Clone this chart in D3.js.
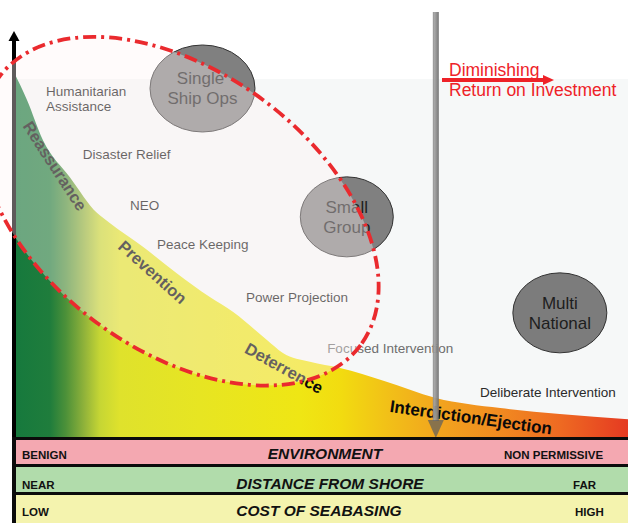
<!DOCTYPE html>
<html><head><meta charset="utf-8">
<script src="https://cdn.jsdelivr.net/npm/d3@7"></script>
<style>
html,body{margin:0;padding:0;background:#fff;overflow:hidden}
svg{display:block;font-family:"Liberation Sans",Arial,Helvetica,sans-serif}
</style>
</head><body>
<svg id="c" width="628" height="523"></svg>
<script>
// ---------- DATA ----------
// operational spectrum (0 = benign, 100 = non permissive) vs. relative effort / utility
const spectrumX = [0, 2.1, 4.7, 9.1, 13.5, 15.6, 21.0, 26.5, 31.9, 35.7, 41.2, 43.8, 48.2, 53.1, 60.3, 68.7, 79.2, 88.9, 100];
const utilityY  = [90.3, 83.5, 73.6, 64.4, 55.6, 53.1, 47.2, 40.7, 34.8, 31.1, 24.2, 21.0, 18.8, 17.3, 14.1, 9.9, 7.4, 5.9, 4.6];

const missionNames = ["Humanitarian\nAssistance", "Disaster Relief", "NEO", "Peace Keeping", "Power Projection", "Focused Intervention", "Deliberate Intervention"];
const missionX = [5.2, 11.2, 18.9, 23.3, 37.8, 51.0, 75.9];
const missionY = [84.4, 68.9, 56.3, 46.7, 33.6, 21.0, 10.1];

const phaseNames = ["Reassurance", "Prevention", "Deterrence", "Interdiction/Ejection"];
const phaseX = [6.7, 22.6, 44.0, 74.4];
const phaseY = [67.2, 41.0, 17.3, 5.0];

const forceNames = ["Single\nShip Ops", "Small\nGroup", "Multi\nNational"];
const forceX = [30.7, 54.2, 88.9];
const forceY = [86.3, 54.6, 30.9];

const seabaseZone = {x: 27.0, y: 56.0};      // centre of dash-dot envelope
const diminishingX = 68.7;                    // diminishing return threshold
const annotationLines = ["Diminishing", "Return on Investment"];

const bandTitles = ["ENVIRONMENT", "DISTANCE FROM SHORE", "COST OF SEABASING"];
const bandLow    = ["BENIGN", "NEAR", "LOW"];
const bandHigh   = ["NON PERMISSIVE", "FAR", "HIGH"];

// ---------- LAYOUT / STYLE ----------
const W = 628, H = 523;
const x = d3.scaleLinear().domain([0, 100]).range([14, 628]);
const y = d3.scaleLinear().domain([0, 100]).range([438, 33]);
const svg = d3.select("#c");
const defs = svg.append("defs");

const grad = defs.append("linearGradient").attr("id", "g").attr("gradientUnits", "userSpaceOnUse")
  .attr("x1", x(0)).attr("x2", x(100)).attr("y1", 0).attr("y2", 0);
[[14,"#16793d"],[50,"#1f7d3c"],[66,"#4d9139"],[85,"#93b43a"],[100,"#c6d634"],[120,"#dfe22c"],
 [200,"#e7e522"],[300,"#efe614"],[340,"#f2dc10"],[390,"#f2bf18"],[440,"#f2a41e"],[500,"#f18a20"],
 [560,"#ee6a22"],[628,"#e53a22"]].forEach(([px,c]) => {
  grad.append("stop").attr("offset", (px - 14) / 614).attr("stop-color", c);
});
const ag = defs.append("linearGradient").attr("id", "ag").attr("x1", 0).attr("x2", 1).attr("y1", 0).attr("y2", 0);
ag.append("stop").attr("offset", 0).attr("stop-color", "#8e8e8e");
ag.append("stop").attr("offset", 0.3).attr("stop-color", "#a0a0a0");
ag.append("stop").attr("offset", 1).attr("stop-color", "#6c6c6c");

// background panel
svg.append("rect").attr("x", x(0)).attr("y", 79).attr("width", x(100) - x(0)).attr("height", y(0) - 79).attr("fill", "#f6f8f8");

// utility area
const pts = spectrumX.map((v, i) => [v, utilityY[i]]);
svg.append("path").datum(pts)
  .attr("d", d3.area().x(d => x(d[0])).y0(y(0)).y1(d => y(d[1])).curve(d3.curveMonotoneX))
  .attr("fill", "url(#g)");

// mission labels
missionNames.forEach((t, i) => {
  const tx = svg.append("text").attr("x", x(missionX[i])).attr("y", y(missionY[i]))
    .attr("font-size", 13.5).attr("fill", i === 5 ? "#6e6e6e" : (i === 6 ? "#2a2a2a" : "#111"));
  t.split("\n").forEach((ln, j) => tx.append("tspan").attr("x", x(missionX[i])).attr("dy", j ? 15 : 0).text(ln));
});

// phase labels along the curve
const phaseAngle = [57, 42, 29, 8];
phaseNames.forEach((t, i) => {
  svg.append("text")
    .attr("transform", `translate(${x(phaseX[i])},${y(phaseY[i])}) rotate(${phaseAngle[i]})`)
    .attr("text-anchor", "middle").attr("dominant-baseline", "central")
    .attr("font-size", i === 3 ? 17 : 16.5).attr("font-weight", "bold")
    .attr("fill", "#0a0a0a").text(t);
});

// force packages
const forceR = [[52.5, 43.5], [46.5, 40], [47, 40]];
forceNames.forEach((t, i) => {
  const cx = x(forceX[i]), cy = y(forceY[i]);
  svg.append("ellipse").attr("cx", cx).attr("cy", cy).attr("rx", forceR[i][0]).attr("ry", forceR[i][1])
    .attr("fill", i === 2 ? "#7c7c7c" : "#808080").attr("stroke", "#333").attr("stroke-width", 1);
  const lines = t.split("\n");
  lines.forEach((ln, j) => {
    svg.append("text").attr("x", cx - (i === 0 && j === 0 ? 2 : 0)).attr("y", cy + (j === 0 ? -4 : 16))
      .attr("text-anchor", "middle").attr("font-size", 17).attr("fill", "#1e1e1e").text(ln);
  });
});

// vertical axis
svg.append("rect").attr("x", 12).attr("y", 39).attr("width", 4).attr("height", y(0) - 39).attr("fill", "#000");
svg.append("path").attr("d", "M8.5,41 L14,31 L19.5,41 Z").attr("fill", "#000");

// seabasing envelope (translucent)
const ez = svg.append("g").attr("transform", `translate(${x(seabaseZone.x)},${y(seabaseZone.y)}) rotate(36.5)`);
ez.append("ellipse").attr("rx", 225).attr("ry", 139).attr("fill", "#fff3f3").attr("fill-opacity", 0.37);
ez.append("ellipse").attr("rx", 225).attr("ry", 139).attr("fill", "none")
  .attr("stroke", "#ea2a2e").attr("stroke-width", 3.8).attr("stroke-dasharray", "13,5,3,5");

// diminishing-return arrow (grey)
const ax = x(diminishingX);
svg.append("rect").attr("x", ax - 3).attr("y", 12).attr("width", 6).attr("height", 421 - 12)
  .attr("fill", "url(#ag)").attr("opacity", 0.92);
svg.append("path").attr("d", `M${ax - 8},420 L${ax + 8},420 L${ax},438 Z`).attr("fill", "#5e5e5e").attr("opacity", 0.72);

// red annotation
svg.append("rect").attr("x", 442).attr("y", 78).attr("width", 103).attr("height", 4).attr("fill", "#ee2228");
svg.append("path").attr("d", "M543,75 L554,80 L543,85 Z").attr("fill", "#ee2228");
annotationLines.forEach((t, j) => {
  svg.append("text").attr("x", 449).attr("y", 76 + j * 20).attr("font-size", 17.5).attr("fill", "#ee2228").text(t);
});

// bottom scales
const bandColors = ["#f4a8b1", "#b1dcab", "#f4f3ae"];
const bandTop = [440, 467, 495], bandBot = [464, 492, 523];
const titleX = [325, 330, 319], highX = [504, 573, 575], baseL = [459, 489, 516];
bandTitles.forEach((t, i) => {
  svg.append("rect").attr("x", 16).attr("y", bandTop[i]).attr("width", W - 16).attr("height", bandBot[i] - bandTop[i]).attr("fill", bandColors[i]);
  svg.append("rect").attr("x", 12).attr("y", bandTop[i] - 3).attr("width", W - 12).attr("height", 3).attr("fill", "#0b0b0b");
  svg.append("text").attr("x", 22).attr("y", baseL[i]).attr("font-size", 11.5).attr("font-weight", "bold").attr("fill", "#111").text(bandLow[i]);
  svg.append("text").attr("x", titleX[i]).attr("y", baseL[i]).attr("text-anchor", "middle").attr("font-size", 15.5)
    .attr("font-weight", "bold").attr("font-style", "italic").attr("fill", "#111").text(t);
  svg.append("text").attr("x", highX[i]).attr("y", baseL[i]).attr("font-size", 11.5).attr("font-weight", "bold").attr("fill", "#111").text(bandHigh[i]);
});
svg.append("rect").attr("x", 12).attr("y", 437).attr("width", 4).attr("height", H - 437).attr("fill", "#0b0b0b");
</script>
</body></html>
